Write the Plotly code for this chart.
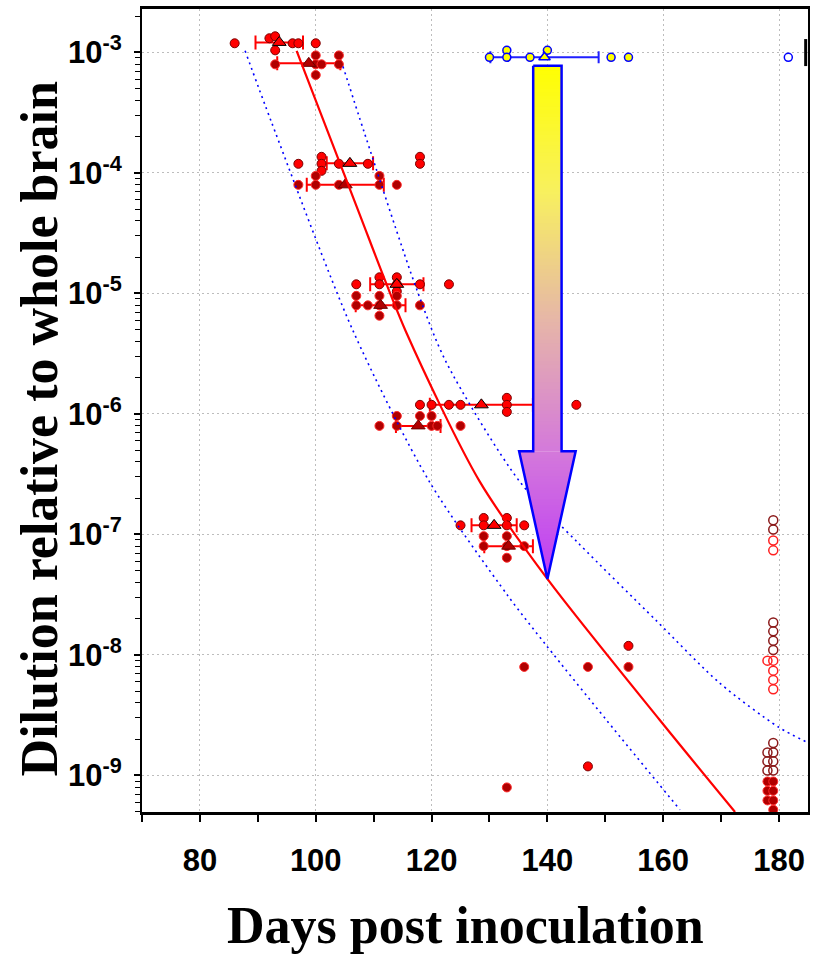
import numpy as np
import plotly.graph_objects as go

# ---------------- data ----------------
# First series, upper row at each dilution (days to clinical disease, dilution)
a_days = [86, 92, 93, 93, 96, 97, 100,
          97, 101, 101, 101, 104, 109, 118, 118,
          107, 111, 111, 114, 114, 114, 118, 123,
          118, 120, 123, 125, 133, 133, 133, 145,
          125, 129, 129, 133, 133, 136,
          154, 147]
a_dil = [1.19e-3, 1.31e-3, 1.36e-3, 1.04e-3, 1.19e-3, 1.19e-3, 1.19e-3,
         1.19e-4, 1.36e-4, 1.19e-4, 1.04e-4, 1.19e-4, 1.19e-4, 1.36e-4, 1.19e-4,
         1.19e-5, 1.36e-5, 1.19e-5, 1.36e-5, 1.19e-5, 1.04e-5, 1.19e-5, 1.19e-5,
         1.19e-6, 1.19e-6, 1.19e-6, 1.19e-6, 1.36e-6, 1.19e-6, 1.04e-6, 1.19e-6,
         1.19e-7, 1.37e-7, 1.19e-7, 1.37e-7, 1.19e-7, 1.19e-7,
         1.19e-8, 1.19e-9]

# Second series, lower row at each dilution
b_days = [93, 100, 100, 100, 101, 104, 104,
          97, 100, 100, 104, 111, 111, 114,
          107, 107, 109, 111, 111, 111, 114, 114, 118,
          111, 114, 114, 118, 120, 120, 121, 125,
          129, 129, 133, 133, 133, 136,
          136, 147, 154, 133,
          178, 179, 178, 179, 178, 179, 179]
b_dil = [7.96e-4, 9.44e-4, 7.96e-4, 6.49e-4, 7.96e-4, 9.44e-4, 7.96e-4,
         7.96e-5, 9.44e-5, 7.96e-5, 7.96e-5, 9.44e-5, 7.96e-5, 7.96e-5,
         9.55e-6, 7.96e-6, 7.96e-6, 9.55e-6, 7.96e-6, 6.53e-6, 9.55e-6, 7.96e-6, 7.96e-6,
         7.96e-7, 9.62e-7, 7.96e-7, 9.62e-7, 9.62e-7, 7.96e-7, 7.96e-7, 7.96e-7,
         9.68e-8, 8.0e-8, 9.68e-8, 8.0e-8, 6.41e-8, 8.0e-8,
         7.96e-9, 7.96e-9, 7.96e-9, 7.96e-10,
         8.92e-10, 8.92e-10, 7.46e-10, 7.46e-10, 6.21e-10, 6.21e-10, 5.2e-10]

# Group means (triangles) with standard deviation in days
a_mean_days = [93.7, 105.9, 114.0, 128.6, 130.8]
a_mean_dil = [1.21e-3, 1.20e-4, 1.19e-5, 1.19e-6, 1.19e-7]
a_sd = [4.1, 4.0, 4.6, 8.9, 3.9]
b_mean_days = [98.8, 105.1, 111.2, 117.7, 133.3]
b_mean_dil = [8.11e-4, 7.96e-5, 7.96e-6, 7.96e-7, 8.0e-8]
b_sd = [5.45, 6.65, 4.3, 3.85, 4.2]

# Animals without disease at end of observation (open circles)
surv_a_days = [179, 179, 179, 179, 179, 179, 179, 178, 179, 178, 179, 178, 179]
surv_a_dil = [1.31e-7, 1.10e-7, 1.86e-8, 1.57e-8, 1.31e-8, 1.10e-8,
              1.86e-9, 1.55e-9, 1.55e-9, 1.31e-9, 1.31e-9, 1.10e-9, 1.10e-9]
surv_b_days = [179, 179, 178, 179, 179, 179, 179]
surv_b_dil = [8.92e-8, 7.38e-8, 8.97e-9, 8.97e-9, 7.41e-9, 6.21e-9, 5.2e-9]

# Treated inoculum at 10^-3
c_days = [130, 133, 133, 137, 140, 151, 154]
c_dil = [9.1e-4, 1.04e-3, 9.1e-4, 9.1e-4, 1.04e-3, 9.1e-4, 9.1e-4]
c_mean_days = [139.5]
c_mean_dil = [9.1e-4]
c_sd = [9.35]
c_surv_days = [181.6]
c_surv_dil = [9.1e-4]
c_end_days = [184.6, 184.6]
c_end_dil = [1.29e-3, 7.7e-4]

# Dose-response fit and its prediction band (log10 dilution)
fit_days = [96.7, 106.8, 115.6, 128.3, 140.0, 159.4, 172.4]
fit_log10 = [-2.987, -4.246, -5.32, -6.56, -7.369, -8.54, -9.303]
lo_days = [87.8, 92.4, 106.4, 119.6, 133.2, 139.8, 150.2, 162.9]
lo_log10 = [-2.987, -3.584, -5.306, -6.56, -7.51, -7.92, -8.54, -9.285]
hi_days = [104.7, 108.4, 117.4, 122.5, 135.2, 145.3, 158.8, 169.8, 179.9, 185.07]
hi_log10 = [-3.116, -3.667, -4.962, -5.568, -6.56, -7.07, -7.715, -8.235, -8.598, -8.73]

x_ticks = [80, 100, 120, 140, 160, 180]
x_minor = [70, 90, 110, 130, 150, 170]
y_exponents = [-3, -4, -5, -6, -7, -8, -9]

# ---------------- figure ----------------
fig = go.Figure()

RED = "#ff0000"
DARK = "#b00000"


def err_trace(xs, ys, sd, color, cap):
    return go.Scatter(x=xs, y=ys, mode="markers",
                      marker=dict(size=1, color="rgba(0,0,0,0)"),
                      error_x=dict(type="data", array=sd, visible=True,
                                   color=color, thickness=2, width=cap),
                      hoverinfo="skip")


fig.add_trace(err_trace(a_mean_days, a_mean_dil, a_sd, RED, 7))
fig.add_trace(err_trace(b_mean_days, b_mean_dil, b_sd, RED, 7))
fig.add_trace(err_trace(c_mean_days, c_mean_dil, c_sd, "#2020ff", 6))

fig.add_trace(go.Scatter(x=a_days, y=a_dil, mode="markers",
                         marker=dict(symbol="circle", size=9, color=RED,
                                     line=dict(color="#7a0000", width=1))))
fig.add_trace(go.Scatter(x=b_days, y=b_dil, mode="markers",
                         marker=dict(symbol="circle", size=9, color=DARK,
                                     line=dict(color="#ff2a2a", width=1))))
fig.add_trace(go.Scatter(x=surv_a_days, y=surv_a_dil, mode="markers",
                         marker=dict(symbol="circle-open", size=9, color="#8b1a1a",
                                     line=dict(width=1.5))))
fig.add_trace(go.Scatter(x=surv_b_days, y=surv_b_dil, mode="markers",
                         marker=dict(symbol="circle-open", size=9, color="#ff2020",
                                     line=dict(width=1.5))))

fig.add_trace(go.Scatter(x=a_mean_days, y=a_mean_dil, mode="markers",
                         marker=dict(symbol="triangle-up", size=12, color=RED,
                                     line=dict(color="#000000", width=1))))
fig.add_trace(go.Scatter(x=b_mean_days, y=b_mean_dil, mode="markers",
                         marker=dict(symbol="triangle-up", size=12, color=DARK,
                                     line=dict(color="#6a0000", width=1))))

# fit and prediction band
fig.add_trace(go.Scatter(x=fit_days, y=10 ** np.array(fit_log10), mode="lines",
                         line=dict(color=RED, width=2.2, shape="spline", smoothing=0.8)))
for dd, ll in ((lo_days, lo_log10), (hi_days, hi_log10)):
    fig.add_trace(go.Scatter(x=dd, y=10 ** np.array(ll), mode="lines",
                             line=dict(color="#0000ff", width=1.6, dash="2px,4px",
                                       shape="spline", smoothing=0.8)))

# treated inoculum group
fig.add_trace(go.Scatter(x=c_days, y=c_dil, mode="markers",
                         marker=dict(symbol="circle", size=8, color="#ffff00",
                                     line=dict(color="#0000ff", width=1.5))))
fig.add_trace(go.Scatter(x=c_mean_days, y=c_mean_dil, mode="markers",
                         marker=dict(symbol="triangle-up", size=10, color="#ffff00",
                                     line=dict(color="#0000ff", width=1.5))))
fig.add_trace(go.Scatter(x=c_surv_days, y=c_surv_dil, mode="markers",
                         marker=dict(symbol="circle-open", size=8, color="#0000ff",
                                     line=dict(width=1.5))))
fig.add_trace(go.Scatter(x=c_end_days, y=c_end_dil, mode="lines",
                         line=dict(color="#000000", width=3)))

# gradient arrow from the treated group down to the fitted curve at the same day
arrow_day = 140.0
arrow_top = -3.11
arrow_neck = -6.31
arrow_tip = float(np.interp(arrow_day, fit_days, fit_log10))
shaft_half = 2.45
head_half = 4.88

stops = [(0.0, (255, 255, 0)), (0.25, (248, 240, 95)), (0.5, (230, 182, 168)),
         (0.75, (212, 122, 218)), (1.0, (190, 60, 245))]


def grad_color(f):
    for (f0, c0), (f1, c1) in zip(stops[:-1], stops[1:]):
        if f <= f1:
            t = (f - f0) / (f1 - f0)
            return "rgb(%d,%d,%d)" % tuple(round(a + (b - a) * t) for a, b in zip(c0, c1))
    return "rgb(%d,%d,%d)" % stops[-1][1]


def head_width(t):
    return head_half * (t - arrow_tip) / (arrow_neck - arrow_tip)


span = arrow_top - arrow_tip
# shaft strips
shaft_edges = np.linspace(arrow_top, arrow_neck, 110)
head_edges = np.linspace(arrow_neck, arrow_tip, 45)
strips = []
for i in range(len(shaft_edges) - 1):
    ta, tb = shaft_edges[i], shaft_edges[i + 1]
    ext = 0.5 * (ta - tb) if i > 0 else 0.0
    strips.append((ta + ext, tb, shaft_half, shaft_half, 0.5 * (ta + tb)))
for i in range(len(head_edges) - 1):
    ta, tb = head_edges[i], head_edges[i + 1]
    ext = 0.5 * (ta - tb) if i > 0 else 0.0
    strips.append((ta + ext, tb, head_width(ta + ext), head_width(tb), 0.5 * (ta + tb)))

for ta, tb, wa, wb, mid in strips:
    col = grad_color((arrow_top - mid) / span)
    xs = [arrow_day - wa, arrow_day + wa, arrow_day + wb, arrow_day - wb, arrow_day - wa]
    ys = 10 ** np.array([ta, ta, tb, tb, ta])
    fig.add_trace(go.Scatter(x=xs, y=ys, mode="lines", fill="toself", fillcolor=col,
                             line=dict(width=0, color=col), hoverinfo="skip"))

ox = [arrow_day - shaft_half, arrow_day + shaft_half, arrow_day + shaft_half,
      arrow_day + head_half, arrow_day, arrow_day - head_half,
      arrow_day - shaft_half, arrow_day - shaft_half]
oy = 10 ** np.array([arrow_top, arrow_top, arrow_neck, arrow_neck, arrow_tip,
                     arrow_neck, arrow_neck, arrow_top])
fig.add_trace(go.Scatter(x=ox, y=oy, mode="lines",
                         line=dict(color="#0000ff", width=2.5), hoverinfo="skip"))

# ---------------- layout ----------------
tick_font = dict(family="Liberation Sans, Arial, sans-serif", size=31, color="black", weight="bold")
title_font = dict(family="Liberation Serif, Times New Roman, serif", size=52, color="black", weight="bold")

y_minor = [k * 10.0 ** e for e in range(-10, -2) for k in range(2, 10)]

fig.update_layout(
    width=819, height=957,
    margin=dict(l=142, r=11, t=6, b=145),
    plot_bgcolor="white", paper_bgcolor="white",
    showlegend=False,
    xaxis=dict(range=[70, 185], tickmode="array", tickvals=x_ticks,
               ticktext=[str(v) for v in x_ticks], tickfont=tick_font,
               ticks="outside", ticklen=7, tickwidth=1.5, tickcolor="black",
               ticklabelstandoff=12,
               showline=True, linewidth=2.5, linecolor="black", mirror=True,
               showgrid=True, gridcolor="#bdbdbd", griddash="2px,3px", gridwidth=1,
               zeroline=False,
               minor=dict(tickmode="array", tickvals=x_minor, ticks="outside",
                          ticklen=7, tickwidth=1.5, tickcolor="black", showgrid=False)),
    yaxis=dict(type="log", range=[-9.303, -2.64], tickmode="array",
               tickvals=[10.0 ** e for e in y_exponents],
               ticktext=["10<sup>%d</sup>" % e for e in y_exponents],
               tickfont=tick_font,
               ticks="outside", ticklen=6, tickwidth=1.5, tickcolor="black",
               ticklabelstandoff=6,
               showline=True, linewidth=2, linecolor="black", mirror=True,
               showgrid=True, gridcolor="#bdbdbd", griddash="2px,3px", gridwidth=1,
               zeroline=False,
               minor=dict(tickmode="array", tickvals=y_minor, ticks="outside",
                          ticklen=5, tickwidth=1, tickcolor="black", showgrid=False)),
    annotations=[
        dict(text="Days post inoculation", xref="paper", yref="paper",
             x=0.485, y=-0.1415, xanchor="center", yanchor="middle",
             showarrow=False, font=title_font),
        dict(text="Dilution relative to whole brain", xref="paper", yref="paper",
             x=-0.1547, y=0.4777, xanchor="center", yanchor="middle", textangle=-90,
             showarrow=False, font=title_font),
    ],
)

fig.write_html("out.html")
